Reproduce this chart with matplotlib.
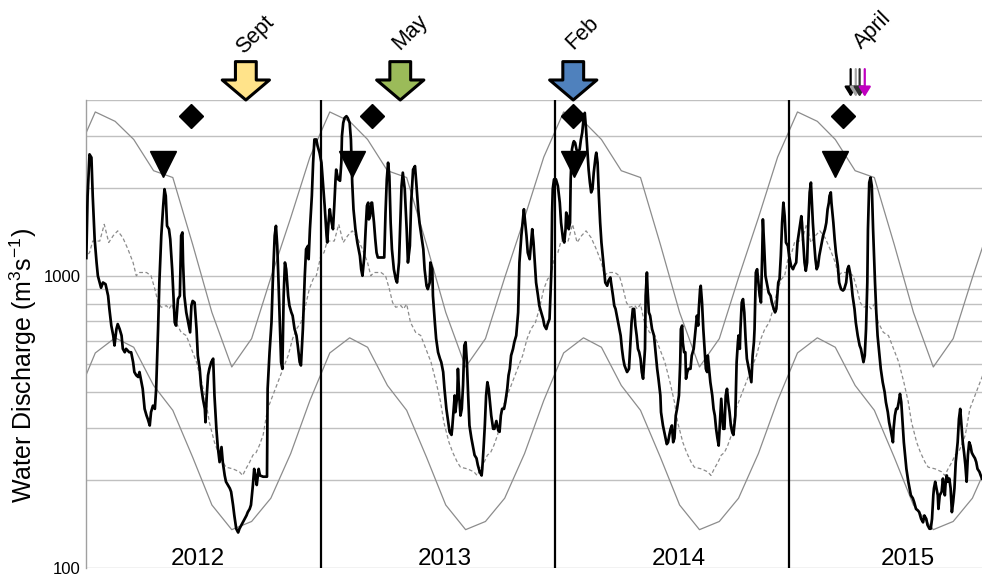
import numpy as np
import matplotlib
matplotlib.use('Agg')
import matplotlib.pyplot as plt
import matplotlib.dates as mdates
from matplotlib.ticker import NullFormatter

plt.rcParams['font.family'] = ['Liberation Sans', 'DejaVu Sans']
plt.rcParams['mathtext.fontset'] = 'custom'
plt.rcParams['mathtext.rm'] = 'Liberation Sans'

# ---------------- data ----------------
# daily discharge: (days since 2012-01-01, m3/s)
flow_2012 = [(0,1150),(2,1877),(5,2605),(8,2540),(10,1877),(13,1335),(16,1110),(18,1000),(23,910),(26,948),
             (30,936),(34,854),(36,770),(39,675),(42,624),(44,577),(47,657),(49,683),(52,657),(55,624),
             (57,562),(60,547),(62,562),(67,547),(70,547),(73,506),(75,468),(78,456),(81,450),(83,468),
             (86,432),(88,410),(91,350),(94,332),(96,323),(99,307),(101,341),(104,359),(107,350),(109,410),
             (112,657),(114,948),(117,1372),(120,1736),(122,1980),(124,1877),(126,1482),(129,1444),(131,1335),
             (134,1053),(136,854),(138,692),(140,675),(143,832),(146,854),(148,1372),(150,1407),(151,1110),
             (153,854),(156,749),(159,692),(162,640),(164,790),(166,820),(169,810),(172,657),(174,533),
             (177,480),(179,421),(182,379),(185,350),(186,315),(188,389),(190,456),(192,480),(195,506),
             (198,520),(200,389),(203,299),(205,262),(208,230),(211,259),(213,230),(216,207),(218,197),
             (221,192),(224,187),(226,182),(229,164),(231,151),(234,136),(237,132),(239,136),(242,140),
             (244,143),(247,147),(250,151),(252,155),(255,159),(257,164),(260,192),(262,218),(264,207),
             (266,192),(269,218),(271,207),(276,205),(282,205),(283,410),(286,547),(289,692),(291,948),
             (294,1372),(296,1482),(298,1266),(300,948),(302,692),(304,506),(306,480),(308,854),(310,1110),
             (312,1053),(315,854),(317,790),(320,749),(322,730),(325,657),(328,624),(330,577),(333,506),
             (335,493),(338,657),(341,1000),(343,1233),(346,1266),(347,1140),(349,1444),(352,1877),
             (354,2439),(356,2930),(359,2930),(361,2781)]
flow_2013 = [(364,2640),(367,2439),(370,1980),(372,1736),(375,1372),(376,1300),(378,1520),(380,1690),
             (382,1560),(385,1444),(387,1736),(389,2140),(390,2310),(393,2140),(396,2115),(398,2439),
             (399,3010),(401,3340),(403,3470),(406,3520),(408,3470),(411,3340),(413,2930),(414,2439),
             (415,2085),(417,1690),(420,1444),(423,1300),(427,1170),(429,1053),(431,1000),(434,1170),
             (436,1444),(438,1736),(440,1780),(441,1560),(443,1600),(445,1780),(446,1780),(449,1520),
             (451,1335),(453,1200),(455,1155),(461,1155),(465,1155),(467,1646),(469,2140),(471,2439),
             (473,2195),(475,1520),(477,1233),(480,1053),(483,974),(485,948),(488,1110),(490,1520),
             (492,2030),(494,2255),(497,1980),(500,1444),(502,1110),(505,1266),(507,1780),(510,2310),
             (513,2375),(515,2085),(518,1690),(520,1520),(523,1372),(526,1233),(528,1053),(531,924),
             (533,900),(536,948),(537,1110),(540,1053),(541,854),(544,692),(546,609),(549,547),(552,520),
             (554,506),(557,468),(559,410),(562,350),(565,315),(567,292),(570,285),(571,299),(573,341),
             (575,389),(576,341),(579,389),(580,480),(582,389),(584,332),(586,350),(588,421),(590,577),
             (592,592),(594,506),(596,389),(598,307),(601,278),(604,256),(606,243),(609,237),(611,225),
             (614,213),(617,207),(618,218),(620,256),(622,307),(624,389),(626,432),(628,410),(630,369),
             (632,332),(635,299),(637,299),(640,318),(643,295),(645,292),(647,332),(649,350),(652,350),
             (654,369),(657,410),(659,456),(661,480),(663,533),(666,562),(668,592),(671,624),(674,749),
             (676,1110),(679,1372),(681,1520),(683,1690),(684,1600),(687,1372),(689,1200),(692,1140),
             (695,1372),(696,1444),(698,1300),(700,1110),(702,948),(705,854),(707,790),(710,749),(713,711),
             (715,675),(718,657),(720,683),(723,711),(726,1053),(727,1646),(728,1980)]
flow_2014 = [(730,2140),(733,2140),(736,2030),(739,1780),(741,1520),(744,1335),(746,1300),(748,1444),
             (749,1646),(751,1600),(753,1444),(755,1520),(756,2140),(757,2439),(758,2710),(760,2850),
             (761,2890),(763,2850),(765,2710),(767,2640),(770,2710),(772,2930),(774,3090),(776,3430),
             (778,3614),(780,3171),(782,2710),(784,2310),(786,2085),(788,1930),(790,1980),(792,2255),
             (795,2575),(796,2640),(798,2439),(800,1877),(802,1520),(804,1300),(806,1170),(808,1053),
             (810,948),(813,924),(815,962),(818,987),(819,948),(822,854),(824,790),(826,770),(828,730),
             (830,692),(832,657),(834,624),(836,562),(838,520),(840,493),(842,480),(844,468),(847,480),
             (849,577),(851,692),(853,770),(855,770),(857,675),(859,624),(861,562),(863,547),(865,520),
             (867,468),(869,444),(872,562),(873,854),(875,1026),(876,900),(878,749),(880,730),(883,657),
             (886,624),(888,562),(891,480),(893,444),(896,389),(897,341),(900,307),(902,292),(904,278),
             (906,265),(908,269),(910,285),(912,299),(914,307),(916,269),(918,278),(920,332),(922,350),
             (925,389),(927,506),(928,657),(930,675),(931,592),(933,547),(935,547),(936,444),(938,468),
             (940,480),(943,480),(945,533),(948,562),(951,657),(953,730),(955,675),(956,770),(958,900),
             (959,924),(961,810),(963,657),(965,562),(967,480),(969,468),(970,533),(972,480),(974,432),
             (977,389),(979,350),(981,332),(983,299),(985,278),(987,262),(989,315),(991,379),(992,350),
             (994,299),(996,299),(998,389),(1000,410),(1002,369),(1004,341),(1006,307),(1008,292),
             (1010,285),(1013,332),(1015,506),(1017,592),(1018,624),(1020,562),(1021,657),(1023,810),
             (1025,832),(1027,749),(1029,609),(1031,520),(1034,480),(1036,456),(1038,432),(1040,533),
             (1042,592),(1043,657),(1045,1026),(1047,1053),(1049,948),(1051,854),(1053,810),(1055,1200),
             (1056,1560),(1058,1266),(1060,1000),(1062,948),(1065,876),(1068,854),(1070,810),(1073,770),
             (1075,749),(1077,770),(1080,948),(1082,974),(1084,1170),(1086,1520),(1088,1780),(1090,1600),
             (1092,1300)]
flow_2015 = [(1095,1266),(1097,1170),(1100,1080),(1103,1053),(1105,1080),(1108,1110),(1110,1300),
             (1113,1444),(1116,1600),(1117,1520),(1119,1300),(1121,1110),(1123,1040),(1125,1110),(1127,1520),
             (1129,1930),(1131,2085),(1132,1877),(1134,1520),(1136,1300),(1138,1140),(1140,1053),(1142,1080),
             (1144,1170),(1146,1233),(1148,1300),(1150,1372),(1153,1444),(1155,1520),(1157,1690),(1159,1780),
             (1160,1877),(1162,1930),(1163,1780),(1166,1520),(1168,1335),(1170,1200),(1173,1080),(1175,948),
             (1178,900),(1181,890),(1183,900),(1186,948),(1188,1053),(1190,1080),(1192,1026),(1194,948),
             (1196,854),(1199,770),(1201,692),(1204,624),(1207,577),(1209,562),(1212,520),(1213,506),
             (1215,533),(1217,657),(1219,948),(1220,1444),(1222,2085),(1224,2170),(1226,2030),(1228,1444),
             (1231,948),(1233,749),(1235,624),(1238,533),(1240,480),(1243,432),(1246,400),(1248,369),
             (1251,341),(1253,315),(1256,292),(1259,269),(1260,299),(1262,332),(1264,350),(1266,350),
             (1268,369),(1270,394),(1272,369),(1274,315),(1276,269),(1278,243),(1280,218),(1283,197),
             (1285,187),(1287,177),(1290,173),(1292,168),(1295,159),(1298,157),(1300,155),(1303,147),
             (1306,143),(1308,151),(1311,147),(1313,140),(1316,136),(1318,136),(1320,147),(1322,177),
             (1323,187),(1325,197),(1326,192),(1329,177),(1330,159),(1332,177),(1335,182),(1337,202),
             (1338,192),(1340,177),(1341,192),(1343,207),(1345,197),(1347,202),(1349,187),(1351,155),
             (1353,168),(1355,187),(1357,230),(1360,269),(1362,323),(1364,350),(1366,307),(1368,269),
             (1370,248),(1372,225),(1374,197),(1376,243),(1378,269),(1380,262),(1382,248),(1384,243),
             (1387,237),(1389,230),(1391,218),(1394,213),(1396,207),(1398,202)]

# climatological median (day of year, m3/s) - dashed line, repeats every year
median_doy = [0, 5, 10, 21, 28, 35, 42, 49, 57, 65, 73, 78, 83, 94, 101, 107, 112, 117, 125, 129, 134,
              140, 148, 156, 164, 172, 180, 187, 192, 200, 206, 213, 218, 229, 239, 244, 249, 255, 260,
              265, 270, 276, 283, 291, 299, 307, 315, 322, 328, 335, 341, 348, 354, 359]
median_q = [1170, 1200, 1315, 1315, 1500, 1300, 1372, 1425, 1350, 1233, 1110, 1000, 1026, 1026, 1000,
            900, 810, 780, 790, 770, 800, 692, 640, 624, 562, 506, 432, 369, 315, 269, 248, 230, 221,
            218, 213, 207, 218, 230, 243, 248, 262, 285, 350, 389, 432, 480, 533, 609, 657, 692, 770,
            900, 974, 1000]

# monthly envelope (mid-month values)
months = [1, 2, 3, 4, 5, 6, 7, 8, 9, 10, 11, 12]
env_max = [3640, 3380, 2930, 2290, 2170, 1280, 749, 487, 609, 985, 1580, 2550]
env_min = [544, 613, 569, 421, 346, 239, 164, 135, 144, 173, 246, 374]
clim_years = [2011, 2012, 2013, 2014, 2015, 2016]

year_bounds = ['2013-01-01', '2014-01-01', '2015-01-01']
year_labels = ['2012', '2013', '2014', '2015']
year_label_dates = ['2012-06-23', '2013-07-14', '2014-07-14', '2015-07-06']

diamond_dates = ['2012-06-12', '2013-03-22', '2014-01-29', '2015-03-27']
diamond_level = 3520
triangle_dates = ['2012-04-30', '2013-02-19', '2014-01-31', '2015-03-14']
triangle_level = 2410

sample_labels = ['Sept', 'May', 'Feb', 'April']
big_arrow_dates = ['2012-09-06', '2013-05-05', '2014-01-30']
big_arrow_colors = ['#FFE38A', '#9BBB59', '#4F81BD']
april_arrow_dates = ['2015-04-08', '2015-04-16', '2015-04-22', '2015-04-30']
april_arrow_colors = ['#000000', '#A6A6A6', '#303030', '#C000C0']

# ---------------- plot ----------------
start = np.datetime64('2012-01-01')

def d2n(s):
    return mdates.date2num(np.datetime64(s))

fig = plt.figure(figsize=(9.82, 5.79), dpi=100)
ax = fig.add_axes([0.0879, 0.0195, 0.9121, 0.8078])
ax.set_yscale('log')
ax.set_ylim(100, 4000)
ax.set_xlim(mdates.date2num(start), mdates.date2num(start + np.timedelta64(1398, 'D')))

# envelopes
mdates_list, mx, mn = [], [], []
for y in clim_years:
    for m, a, b in zip(months, env_max, env_min):
        mdates_list.append(mdates.date2num(np.datetime64(f'{y}-{m:02d}-15')))
        mx.append(a)
        mn.append(b)
ax.plot(mdates_list, mx, color='#8C8C8C', lw=0.9, zorder=2)
ax.plot(mdates_list, mn, color='#8C8C8C', lw=0.9, zorder=2)

# median
md, mq = [], []
for y in clim_years[:-1]:
    y0 = np.datetime64(f'{y}-01-01')
    for d, q in zip(median_doy, median_q):
        md.append(mdates.date2num(y0 + np.timedelta64(d, 'D')))
        mq.append(q)
ax.plot(md, mq, color='#8C8C8C', lw=0.9, dashes=(3, 2), zorder=2)

# daily flow
flow = flow_2012 + flow_2013 + flow_2014 + flow_2015
fd = [mdates.date2num(start + np.timedelta64(d, 'D')) for d, _ in flow]
fq = [q for _, q in flow]
ax.plot(fd, fq, color='black', lw=1.95, zorder=4, solid_joinstyle='round')

for b in year_bounds:
    ax.axvline(d2n(b), color='black', lw=1.6, zorder=3)

# grid & axes
ax.set_yticks([100, 1000])
ax.set_yticklabels(['100', '1000'])
ax.set_yticks([200, 300, 400, 500, 600, 700, 800, 900, 2000, 3000, 4000], minor=True)
ax.yaxis.set_minor_formatter(NullFormatter())
ax.set_xticks([])
ax.yaxis.grid(True, which='both', color='#C0C0C0', lw=1.0, zorder=0)
ax.set_axisbelow(True)
ax.tick_params(axis='y', which='both', length=0, labelsize=12, pad=4)
for s in ['top', 'right', 'bottom']:
    ax.spines[s].set_visible(False)
ax.spines['left'].set_color('#A0A0A0')
ax.spines['left'].set_linewidth(1.0)

ax.set_ylabel(r'Water Discharge (m$^{\mathregular{3}}$s$^{\mathregular{-1}}$)', fontsize=18)
ax.yaxis.set_label_coords(-0.053, 0.432)

xt = ax.get_xaxis_transform()
for lab, d in zip(year_labels, year_label_dates):
    ax.text(d2n(d), 0.006, lab, transform=xt, ha='center', va='baseline', fontsize=17.5)

# markers
ax.plot([d2n(d) for d in diamond_dates], [diamond_level] * len(diamond_dates), 'D',
        ms=12.5, color='black', clip_on=False, zorder=6)
ax.plot([d2n(d) for d in triangle_dates], [triangle_level] * len(triangle_dates), 'v',
        ms=19, color='black', clip_on=False, zorder=6)

# big sample arrows
for d, c in zip(big_arrow_dates, big_arrow_colors):
    x = d2n(d)
    ax.annotate('', xy=(x, 1.0), xycoords=('data', 'axes fraction'),
                xytext=(x, 1.082), textcoords=('data', 'axes fraction'),
                arrowprops=dict(arrowstyle='simple,head_length=0.72,head_width=1.7,tail_width=0.75',
                                mutation_scale=20, fc=c, ec='black', lw=2.2,
                                shrinkA=0, shrinkB=0),
                annotation_clip=False, zorder=7)

# April small arrows
for d, c in zip(april_arrow_dates, april_arrow_colors):
    x = d2n(d)
    ax.annotate('', xy=(x, 1.007), xycoords=('data', 'axes fraction'),
                xytext=(x, 1.066), textcoords=('data', 'axes fraction'),
                arrowprops=dict(arrowstyle='-|>,head_length=0.58,head_width=0.36',
                                mutation_scale=10, color=c, lw=1.6,
                                shrinkA=0, shrinkB=0),
                annotation_clip=False, zorder=7)

# month labels
label_anchor_dates = big_arrow_dates + [april_arrow_dates[1]]
label_offsets = [(6.5, 46.8), (7.2, 49), (6.3, 48), (12, 50)]
for lab, d, off in zip(sample_labels, label_anchor_dates, label_offsets):
    ax.annotate(lab, xy=(d2n(d), 1.0), xycoords=('data', 'axes fraction'),
                xytext=off, textcoords='offset points', rotation=45,
                ha='center', va='center', fontsize=15.5, annotation_clip=False)

fig.savefig('out.png', dpi=100)
